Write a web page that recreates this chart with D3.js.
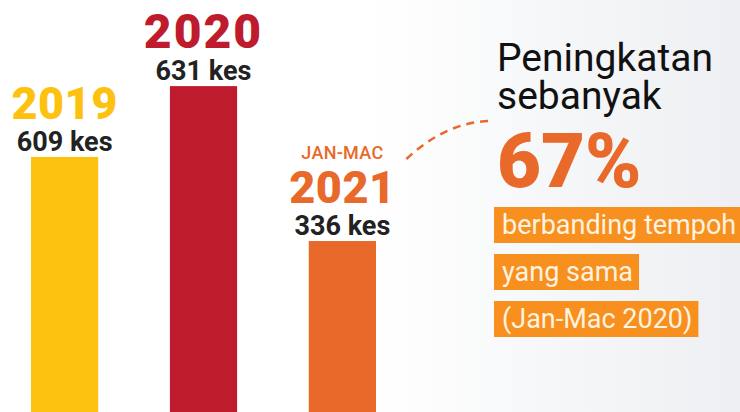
<!DOCTYPE html>
<html>
<head>
<meta charset="utf-8">
<script src="https://cdn.jsdelivr.net/npm/d3@7"></script>
<style>
  body { margin: 0; background: #fff; }
  svg text { font-family: Roboto, "Noto Sans", sans-serif; }
</style>
</head>
<body>
<div class="chart"></div>
<script>
// data
const years = ["2019", "2020", "2021"];
const cases = [609, 631, 336];
const periods = ["", "", "JAN-MAC"];
const colors = ["#FDC20F", "#BE1B2D", "#E8692A"];
const increasePct = 67;
const noteLines = ["berbanding tempoh", "yang sama", "(Jan-Mac 2020)"];

const w = 740, h = 412;

const svg = d3.select(".chart")
    .append("svg")
    .attr("width", w)
    .attr("height", h);

// soft grey wash on the right side
const grad = svg.append("defs").append("linearGradient")
    .attr("id", "bg").attr("x1", 0).attr("x2", 1).attr("y1", 0).attr("y2", 0);
grad.append("stop").attr("offset", "0.5").attr("stop-color", "#ffffff");
grad.append("stop").attr("offset", "1").attr("stop-color", "#edeff2");
svg.append("rect").attr("width", w).attr("height", h).attr("fill", "url(#bg)");

const xScale = d3.scaleBand()
    .domain(years)
    .range([31, 376])
    .paddingInner(0.516)
    .paddingOuter(0);

// the infographic is not drawn to scale, so use a piecewise scale through the values
const sorted = cases.slice().sort((a, b) => a - b);
const yScale = d3.scaleLinear()
    .domain([0, sorted[0], sorted[1], sorted[2]])
    .range([h, h * 0.585, h * 0.381, h * 0.209]);

const data = years.map((y, i) => ({year: y, value: cases[i], period: periods[i], color: colors[i]}));

svg.selectAll("rect.bar")
    .data(data)
    .enter()
    .append("rect")
    .attr("class", "bar")
    .attr("x", d => xScale(d.year))
    .attr("y", d => yScale(d.value))
    .attr("width", xScale.bandwidth())
    .attr("height", d => h - yScale(d.value))
    .attr("fill", d => d.color);

const cx = d => xScale(d.year) + xScale.bandwidth() / 2;

// "xxx kes"
svg.selectAll("text.count")
    .data(data)
    .enter()
    .append("text")
    .attr("class", "count")
    .attr("x", cx)
    .attr("y", d => yScale(d.value) - 6)
    .attr("text-anchor", "middle")
    .attr("font-size", 27)
    .attr("font-weight", 700)
    .attr("fill", "#222")
    .text(d => d.value + " kes");

// year
svg.selectAll("text.year")
    .data(data)
    .enter()
    .append("text")
    .attr("class", "year")
    .attr("x", cx)
    .attr("y", d => yScale(d.value) - 38)
    .attr("text-anchor", "middle")
    .attr("font-size", d => d.year == "2020" ? 48 : 45)
    .attr("letter-spacing", d => d.year == "2020" ? 2 : 0.5)
    .attr("font-weight", 900)
    .attr("fill", d => d.color)
    .text(d => d.year);

// JAN-MAC
svg.selectAll("text.period")
    .data(data.filter(d => d.period))
    .enter()
    .append("text")
    .attr("class", "period")
    .attr("x", cx)
    .attr("y", d => yScale(d.value) - 82)
    .attr("text-anchor", "middle")
    .attr("font-size", 18)
    .attr("font-weight", 500)
    .attr("letter-spacing", 0.3)
    .attr("fill", d => d.color)
    .text(d => d.period);

// dashed connector
const last = data[2];
svg.append("path")
    .attr("d", `M${cx(last) + 64},${yScale(last.value) - 82} Q446,122 490,121`)
    .attr("fill", "none")
    .attr("stroke", "#E8692A")
    .attr("stroke-width", 2.5)
    .attr("stroke-dasharray", "8,6");

// right hand callout
const tx = 497;
svg.append("text")
    .attr("x", tx).attr("y", 71)
    .attr("font-size", 39)
    .attr("fill", "#111")
    .text("Peningkatan");
svg.append("text")
    .attr("x", tx).attr("y", 109)
    .attr("font-size", 39)
    .attr("fill", "#111")
    .text("sebanyak");
svg.append("text")
    .attr("x", tx).attr("y", 187)
    .attr("font-size", 76)
    .attr("font-weight", 900)
    .attr("fill", "#E8692A")
    .text(increasePct + "%");

const notes = svg.selectAll("g.note")
    .data(noteLines)
    .enter()
    .append("g")
    .attr("class", "note")
    .attr("transform", (d, i) => `translate(494, ${207 + i * 47})`);

notes.append("text")
    .attr("x", 8)
    .attr("y", 27)
    .attr("font-size", 27)
    .attr("fill", "#FFF3E0")
    .text(d => d);

notes.insert("rect", "text")
    .attr("x", 0)
    .attr("y", 0)
    .attr("height", 36)
    .attr("fill", "#F7901E")
    .attr("width", function() {
        return this.parentNode.querySelector("text").getComputedTextLength() + 14;
    });
</script>
</body>
</html>
